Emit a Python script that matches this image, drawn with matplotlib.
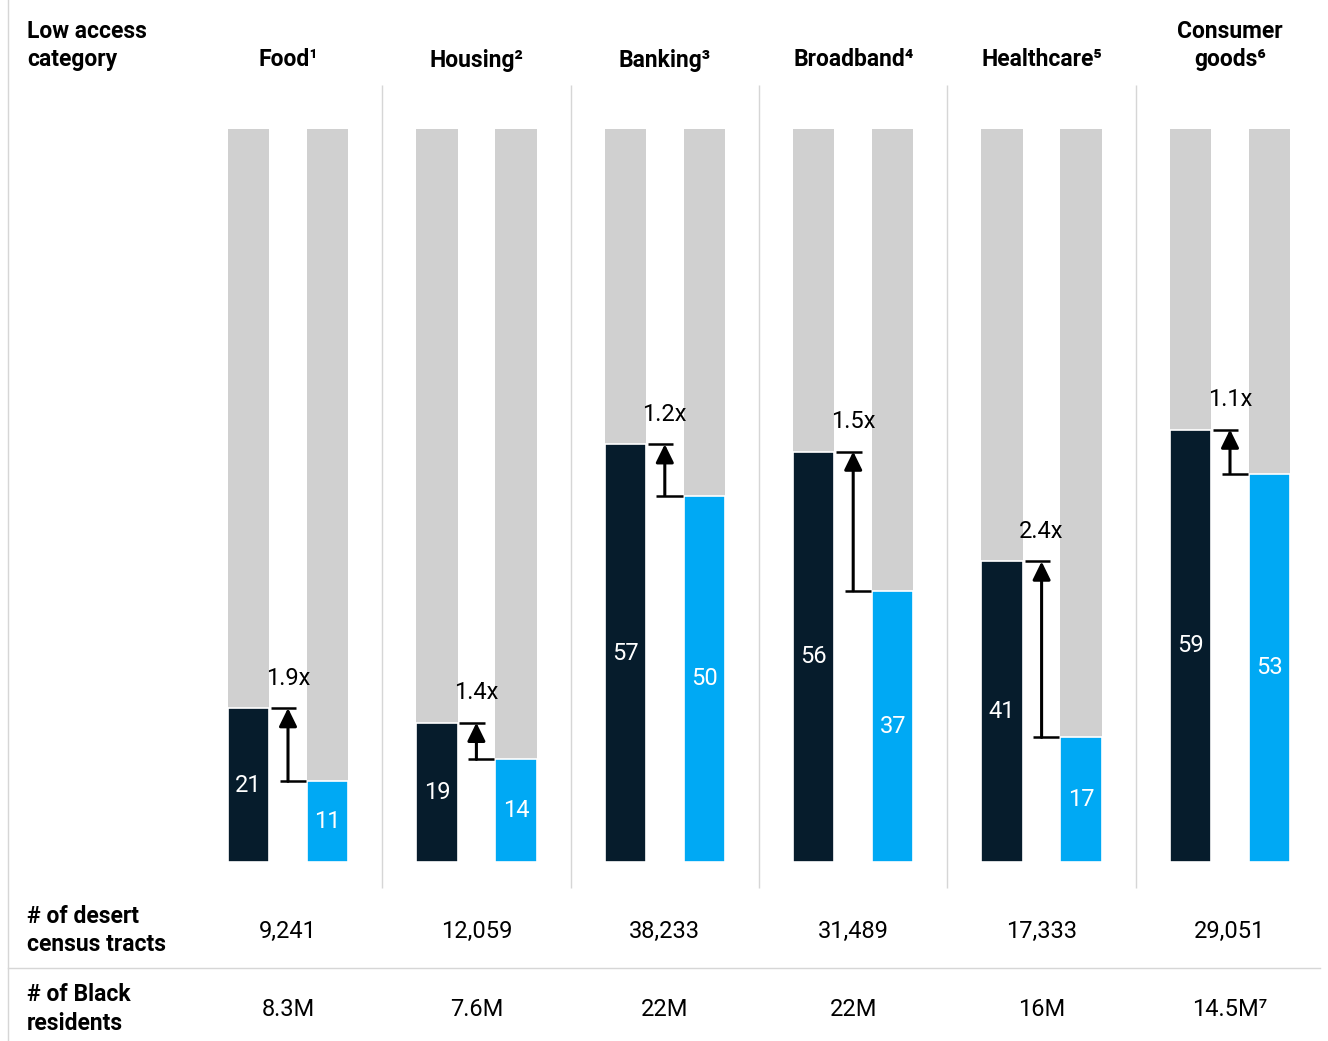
import matplotlib
matplotlib.use("Agg")
from matplotlib import pyplot as plt
from matplotlib import transforms
from matplotlib.lines import Line2D

plt.rcParams["font.family"] = ["Roboto", "DejaVu Sans"]

categories = ["Food¹", "Housing²", "Banking³", "Broadband⁴", "Healthcare⁵", "Consumer\ngoods⁶"]
black_share = [21, 19, 57, 56, 41, 59]
other_share = [11, 14, 50, 37, 17, 53]
multipliers = ["1.9x", "1.4x", "1.2x", "1.5x", "2.4x", "1.1x"]
desert_tracts = ["9,241", "12,059", "38,233", "31,489", "17,333", "29,051"]
black_residents = ["8.3M", "7.6M", "22M", "22M", "16M", "14.5M⁷"]

DARK = "#061c2c"
BLUE = "#00a9f4"
GREY = "#d0d0d0"
RULE = "#d6d6d6"

W, H = 1328, 1041
fig = plt.figure(figsize=(W / 100, H / 100), dpi=100)

# bar area: 0..100% spans y=862px..129px, groups spaced 188.4px starting at 288px
ax = fig.add_axes([0, (H - 862) / H, 1, 733 / H])
ax.set_xlim((0 - 288) / 188.4, (W - 288) / 188.4)
ax.set_ylim(0, 100)
ax.axis("off")

xs = list(range(len(categories)))
off = 0.21
bw = 0.22
dark_x = [x - off for x in xs]
blue_x = [x + off for x in xs]

ax.bar(dark_x, [100] * len(xs), width=bw, color=GREY)
ax.bar(blue_x, [100] * len(xs), width=bw, color=GREY)
ax.bar(dark_x, black_share, width=bw, color=DARK, edgecolor="white", linewidth=1.2)
ax.bar(blue_x, other_share, width=bw, color=BLUE, edgecolor="white", linewidth=1.2)

for x, v in zip(dark_x, black_share):
    ax.text(x, v / 2, str(v), color="white", ha="center", va="center", fontsize=17)
for x, v in zip(blue_x, other_share):
    ax.text(x, v / 2, str(v), color="white", ha="center", va="center", fontsize=17)

# gap arrows from the lower to the higher share
for x, hi, lo, m in zip(xs, black_share, other_share, multipliers):
    ax.hlines(hi, x - 0.09, x + 0.045, color="black", lw=1.8)
    ax.hlines(lo, x - 0.045, x + 0.095, color="black", lw=1.8)
    ax.annotate(
        "",
        xy=(x, hi),
        xytext=(x, lo),
        arrowprops=dict(
            arrowstyle="-|>,head_length=0.55,head_width=0.27",
            mutation_scale=20,
            lw=2.2,
            color="black",
            shrinkA=0,
            shrinkB=0,
        ),
    )
    ax.annotate(
        m,
        xy=(x, hi),
        xytext=(0, 30),
        textcoords="offset pixels",
        ha="center",
        va="center",
        fontsize=17,
    )

# group separators
ax.vlines([x + 0.5 for x in xs[:-1]], -3.5, 106, color=RULE, lw=1, clip_on=False)

head = dict(fontsize=16.5, fontweight="bold", linespacing=1.33, va="center")
trans = transforms.blended_transform_factory(ax.transData, fig.transFigure)
for x, c in zip(xs, categories):
    ax.text(x, 1 - 45.5 / H if "\n" in c else 1 - 60 / H, c, transform=trans,
            ha="center", **head)
for x, t in zip(xs, desert_tracts):
    ax.text(x, 1 - 931 / H, t, transform=trans, ha="center", va="center", fontsize=17)
for x, r in zip(xs, black_residents):
    ax.text(x, 1 - 1009 / H, r, transform=trans, ha="center", va="center", fontsize=17)

fig.text(27 / W, 1 - 45.5 / H, "Low access\ncategory", ha="left", **head)
fig.text(27 / W, 1 - 930.5 / H, "# of desert\ncensus tracts", ha="left", **head)
fig.text(27 / W, 1 - 1009 / H, "# of Black\nresidents", ha="left", **head)

fig.add_artist(Line2D([8 / W, 8 / W], [0, 1], color=RULE, lw=1))
fig.add_artist(Line2D([8 / W, 1320 / W], [1 - 968 / H] * 2, color=RULE, lw=1))

fig.savefig("out.png", dpi=100, facecolor="white")
